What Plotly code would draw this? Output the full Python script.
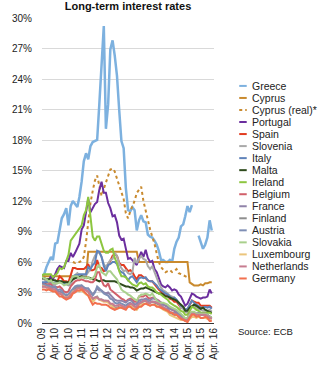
import pandas as pd
import plotly.graph_objects as go

months = pd.date_range("2009-10-01", "2016-03-01", freq="MS")

tick_vals = pd.date_range("2009-10-01", "2016-04-01", freq="6MS")
tick_text = ["Oct. 09", "Apr. 10", "Oct. 10", "Apr. 11", "Oct. 11", "Apr. 12", "Oct. 12",
             "Apr. 13", "Oct. 13", "Apr. 14", "Oct. 14", "Apr. 15", "Oct. 15", "Apr. 16"]

greece = [4.6, 4.8, 5.5,
          6.0, 6.5, 6.2, 7.8, 7.9, 9.1, 10.3, 10.7, 11.3, 9.6, 11.5, 12.0,
          11.7, 11.4, 12.4, 13.9, 15.9, 16.7, 16.1, 17.4, 17.8, 17.9, 18.0, 21.5,
          26.0, 29.2, 19.1, 21.5, 26.9, 27.8, 26.3, 24.3, 20.9, 17.9, 17.2, 13.3,
          11.1, 11.0, 11.4, 11.1, 9.1, 10.1, 10.6, 10.0, 9.9, 8.7, 8.5, 8.4,
          8.1, 7.7, 7.1, 6.2, 6.2, 6.0, 6.0, 6.2, 6.0, 7.3, 8.0, 8.4,
          9.5, 9.7, 10.5, 11.5, 10.9, 11.6, None, None, 8.6, 7.9, 7.3, 7.7,
          8.4, 10.1, 9.1]
cyprus = [4.6, 4.6, 4.6,
          4.6, 4.6, 4.6, 4.6, 4.6, 4.6, 4.6, 4.6, 4.6, 4.6, 4.6, 4.6,
          4.6, 4.6, 4.6, 4.6, 4.6, 4.6, 7.0, 7.0, 7.0, 7.0, 7.0, 7.0,
          7.0, 7.0, 7.0, 7.0, 7.0, 7.0, 7.0, 7.0, 7.0, 7.0, 7.0, 7.0,
          7.0, 7.0, 7.0, 7.0, 7.0, 6.0, 6.0, 6.0, 6.0, 6.0, 6.0, 6.0,
          6.0, 6.0, 6.0, 6.0, 6.0, 6.0, 6.0, 6.0, 6.0, 6.0, 6.0, 6.0,
          6.0, 6.0, 6.0, 6.0, 4.0, 3.8, 3.7, 3.7, 3.7, 3.8, 3.7, 3.9,
          3.9, 4.0, 4.0]
cyprus_real = [None, None, None,
               None, None, None, None, None, None, None, None, None, None, None, 6.0,
               5.9, 6.0, 6.0, 6.1, 6.5, 8.0, 10.0, 11.8, 13.0, 14.0, 14.5, 13.5,
               12.5, 13.2, 13.8, 14.6, 15.1, 15.2, 14.9, 14.2, 13.5, 12.8, 12.2, 10.8,
               10.3, 11.0, 11.5, 12.0, 12.8, 13.1, 13.4, 12.0, 11.0, 10.0, 9.2, 8.5,
               7.8, 6.8, 6.0, 5.5, 5.2, 5.0, 5.1, 5.2, 5.0, 5.1, 5.3, 4.9,
               4.8, 4.7, 4.6, 4.5, None, None, None, None, None, None, None, None,
               None, None, None]
portugal = [3.9, 3.9, 4.0,
            4.2, 4.6, 4.3, 4.8, 5.3, 5.6, 5.5, 5.4, 6.1, 6.1, 6.9, 6.5,
            6.9, 7.3, 7.8, 9.2, 9.6, 10.9, 12.2, 10.9, 11.3, 11.7, 11.9, 13.1,
            13.9, 12.8, 12.8, 11.8, 11.3, 10.5, 10.6, 9.9, 8.6, 8.2, 8.3, 7.3,
            6.3, 6.4, 6.2, 6.0, 5.7, 6.4, 7.0, 6.5, 7.2, 6.4, 6.0, 6.1,
            5.3, 5.0, 4.4, 3.8, 3.6, 3.5, 3.7, 3.5, 3.2, 3.3, 3.2, 2.8,
            2.6, 2.1, 1.7, 1.9, 2.4, 2.9, 2.8, 2.6, 2.5, 2.4, 2.5, 2.5,
            2.6, 3.3, 2.9]
spain = [3.8, 3.8, 3.8,
         4.0, 4.0, 3.8, 3.9, 4.1, 4.6, 4.4, 4.1, 4.1, 4.0, 4.7, 5.4,
         5.4, 5.3, 5.3, 5.3, 5.3, 5.5, 5.8, 5.2, 5.2, 5.3, 6.2, 5.5,
         5.4, 5.1, 5.2, 5.8, 6.1, 6.6, 6.8, 6.6, 5.9, 5.7, 5.7, 5.4,
         5.1, 5.2, 5.0, 4.6, 4.3, 4.7, 4.7, 4.5, 4.4, 4.2, 4.1, 4.1,
         3.8, 3.6, 3.3, 3.1, 2.9, 2.7, 2.7, 2.4, 2.3, 2.1, 2.1, 1.8,
         1.5, 1.5, 1.2, 1.3, 1.8, 2.2, 2.1, 2.0, 2.0, 1.7, 1.7, 1.7,
         1.7, 1.7, 1.5]
slovenia = [4.3, 4.3, 4.0,
            3.9, 3.9, 3.8, 3.8, 3.9, 4.0, 4.0, 3.8, 3.8, 3.7, 3.8, 4.2,
            4.7, 4.9, 4.7, 4.6, 4.6, 4.7, 5.0, 5.3, 6.1, 6.6, 6.9, 6.9,
            6.5, 5.8, 5.5, 5.9, 6.2, 6.3, 6.9, 6.6, 5.8, 5.4, 5.1, 5.2,
            4.9, 4.8, 5.0, 6.4, 5.9, 6.3, 6.6, 6.3, 6.2, 5.6, 5.3, 5.6,
            5.0, 4.3, 3.9, 3.5, 3.2, 3.1, 2.9, 2.7, 2.6, 2.5, 2.2, 2.0,
            1.5, 1.4, 1.1, 1.0, 1.2, 1.6, 1.7, 1.5, 1.4, 1.3, 1.2, 1.2,
            1.2, 1.3, 1.1]
italy = [4.0, 4.0, 4.0,
         4.1, 4.1, 3.9, 4.0, 4.0, 4.1, 4.0, 3.8, 3.9, 3.8, 4.1, 4.6,
         4.7, 4.7, 4.8, 4.8, 4.8, 4.8, 5.5, 5.3, 5.7, 5.9, 7.1, 7.0,
         6.5, 5.6, 5.1, 5.7, 5.8, 6.0, 6.0, 5.8, 5.2, 5.0, 4.9, 4.5,
         4.2, 4.5, 4.6, 4.3, 4.0, 4.4, 4.5, 4.4, 4.5, 4.2, 4.1, 4.1,
         3.9, 3.7, 3.4, 3.2, 3.1, 2.9, 2.8, 2.6, 2.4, 2.5, 2.3, 2.0,
         1.7, 1.6, 1.3, 1.4, 1.8, 2.2, 2.0, 1.8, 1.7, 1.5, 1.5, 1.6,
         1.5, 1.6, 1.4]
malta = [4.4, 4.4, 4.3,
         4.3, 4.3, 4.2, 4.2, 4.1, 4.1, 4.1, 4.0, 4.0, 4.0, 4.1, 4.3,
         4.4, 4.5, 4.5, 4.6, 4.5, 4.4, 4.5, 4.4, 4.3, 4.3, 4.2, 4.1,
         4.2, 4.2, 4.1, 4.1, 4.1, 4.1, 4.1, 4.0, 3.9, 3.8, 3.7, 3.6,
         3.6, 3.5, 3.5, 3.4, 3.2, 3.3, 3.4, 3.4, 3.5, 3.4, 3.3, 3.2,
         3.1, 3.0, 2.9, 2.9, 2.8, 2.6, 2.6, 2.5, 2.4, 2.3, 2.2, 2.0,
         1.8, 1.6, 1.2, 1.2, 1.5, 1.7, 1.8, 1.7, 1.5, 1.4, 1.5, 1.3,
         1.2, 1.1, 1.0]
ireland = [4.7, 4.8, 4.8,
           4.8, 4.8, 4.5, 4.7, 4.9, 5.4, 5.3, 5.5, 6.2, 6.7, 8.1, 8.4,
           8.7, 9.1, 9.3, 9.6, 10.6, 11.1, 12.4, 10.5, 8.5, 8.1, 8.5, 8.5,
           7.7, 7.1, 6.9, 6.9, 7.2, 7.3, 6.4, 5.9, 5.1, 4.6, 4.6, 4.5,
           4.2, 4.0, 3.8, 3.7, 3.6, 3.9, 4.0, 3.8, 3.9, 3.6, 3.5, 3.5,
           3.3, 3.0, 2.9, 2.8, 2.6, 2.4, 2.3, 2.0, 1.8, 1.7, 1.6, 1.4,
           1.2, 1.1, 0.8, 0.8, 1.2, 1.6, 1.5, 1.3, 1.2, 1.0, 1.0, 1.0,
           1.0, 1.0, 0.9]
belgium = [3.7, 3.7, 3.7,
           3.8, 3.8, 3.6, 3.6, 3.5, 3.6, 3.4, 3.1, 3.0, 3.1, 3.6, 3.9,
           4.1, 4.2, 4.2, 4.3, 4.2, 4.1, 4.1, 4.0, 4.0, 4.2, 5.0, 5.0,
           4.2, 3.7, 3.6, 3.9, 3.3, 3.1, 3.0, 2.8, 2.6, 2.4, 2.3, 2.1,
           2.3, 2.4, 2.3, 2.1, 2.1, 2.6, 2.6, 2.6, 2.8, 2.5, 2.4, 2.5,
           2.4, 2.3, 2.2, 2.0, 1.9, 1.7, 1.6, 1.4, 1.3, 1.2, 1.0, 0.9,
           0.8, 0.6, 0.4, 0.5, 0.9, 1.1, 1.0, 0.9, 0.9, 0.8, 0.9, 0.9,
           0.8, 0.6, 0.5]
france = [3.6, 3.6, 3.5,
          3.6, 3.5, 3.5, 3.5, 3.1, 3.1, 3.0, 2.8, 2.7, 2.7, 3.0, 3.3,
          3.5, 3.6, 3.6, 3.7, 3.5, 3.4, 3.4, 3.1, 2.8, 3.1, 3.4, 3.2,
          3.2, 3.0, 2.9, 3.0, 2.8, 2.6, 2.3, 2.2, 2.2, 2.2, 2.1, 2.0,
          2.2, 2.3, 2.1, 1.8, 1.9, 2.2, 2.3, 2.3, 2.4, 2.3, 2.2, 2.4,
          2.4, 2.3, 2.1, 2.0, 1.8, 1.7, 1.6, 1.4, 1.3, 1.3, 1.1, 0.9,
          0.7, 0.6, 0.4, 0.4, 0.8, 1.0, 1.1, 0.9, 1.0, 0.9, 0.9, 0.9,
          0.8, 0.6, 0.6]
finland = [3.6, 3.6, 3.5,
           3.5, 3.4, 3.3, 3.3, 2.9, 2.9, 2.8, 2.5, 2.5, 2.6, 2.8, 3.1,
           3.4, 3.5, 3.5, 3.6, 3.4, 3.2, 3.1, 2.6, 2.3, 2.5, 2.6, 2.3,
           2.3, 2.2, 2.2, 2.1, 1.8, 1.7, 1.5, 1.5, 1.6, 1.6, 1.6, 1.5,
           1.7, 1.9, 1.8, 1.6, 1.6, 1.9, 2.0, 2.1, 2.2, 2.0, 2.0, 2.1,
           2.0, 1.9, 1.8, 1.7, 1.5, 1.4, 1.3, 1.0, 0.9, 0.8, 0.8, 0.7,
           0.5, 0.4, 0.2, 0.2, 0.6, 0.9, 1.0, 0.8, 0.9, 0.8, 0.8, 0.8,
           0.7, 0.5, 0.5]
austria = [3.8, 3.8, 3.7,
           3.7, 3.6, 3.6, 3.6, 3.2, 3.3, 3.2, 2.8, 2.8, 2.8, 3.1, 3.4,
           3.6, 3.7, 3.7, 3.7, 3.5, 3.4, 3.4, 3.0, 2.7, 3.0, 3.6, 3.4,
           3.1, 2.9, 2.8, 2.7, 2.4, 2.3, 2.0, 1.9, 2.0, 1.9, 1.8, 1.7,
           1.9, 2.0, 1.8, 1.6, 1.6, 2.0, 2.1, 2.2, 2.3, 2.1, 2.0, 2.1,
           2.1, 2.0, 1.9, 1.8, 1.5, 1.4, 1.4, 1.1, 1.0, 1.0, 0.8, 0.8,
           0.6, 0.4, 0.3, 0.2, 0.6, 1.0, 1.0, 0.9, 0.9, 0.8, 0.8, 0.9,
           0.8, 0.6, 0.5]
slovakia = [4.5, 4.4, 4.3,
            4.1, 4.2, 3.9, 3.9, 3.9, 4.0, 3.9, 3.7, 3.8, 3.8, 4.2, 4.6,
            4.6, 4.6, 4.4, 4.5, 4.5, 4.4, 4.5, 4.3, 4.4, 4.7, 5.5, 5.7,
            5.0, 4.8, 4.7, 5.1, 5.1, 4.8, 4.6, 4.3, 3.8, 3.3, 3.1, 3.0,
            2.8, 2.7, 2.5, 2.3, 2.2, 2.6, 2.8, 2.8, 2.9, 2.8, 2.7, 2.9,
            2.5, 2.2, 2.0, 2.0, 2.0, 1.9, 1.8, 1.6, 1.5, 1.4, 1.3, 1.1,
            0.9, 0.7, 0.4, 0.5, 0.8, 1.1, 1.1, 0.9, 0.9, 0.9, 0.9, 0.9,
            0.8, 0.6, 0.6]
luxembourg = [3.7, 3.6, 3.5,
              3.3, 3.2, 3.1, 3.2, 2.9, 2.9, 2.8, 2.6, 2.5, 2.6, 2.8, 3.1,
              3.2, 3.2, 3.1, 3.2, 3.0, 2.8, 2.7, 2.4, 2.1, 2.3, 2.5, 2.3,
              2.2, 2.1, 2.1, 2.0, 1.8, 1.6, 1.4, 1.4, 1.5, 1.6, 1.6, 1.5,
              1.6, 1.7, 1.6, 1.4, 1.3, 1.6, 1.8, 1.9, 1.9, 1.8, 1.7, 1.8,
              1.8, 1.7, 1.6, 1.5, 1.3, 1.2, 1.1, 0.8, 0.7, 0.6, 0.5, 0.4,
              0.3, 0.3, 0.2, 0.1, 0.4, 0.6, 0.6, 0.5, 0.6, 0.5, 0.5, 0.5,
              0.4, 0.3, 0.3]
netherlands = [3.6, 3.6, 3.5,
               3.5, 3.4, 3.3, 3.3, 3.0, 2.9, 2.8, 2.5, 2.5, 2.5, 2.8, 3.0,
               3.2, 3.4, 3.4, 3.5, 3.3, 3.2, 3.1, 2.7, 2.4, 2.5, 2.5, 2.3,
               2.3, 2.2, 2.2, 2.2, 1.9, 1.9, 1.7, 1.7, 1.8, 1.7, 1.6, 1.5,
               1.7, 1.9, 1.8, 1.6, 1.6, 1.9, 2.0, 2.2, 2.2, 2.0, 2.0, 2.1,
               2.1, 2.0, 1.9, 1.7, 1.5, 1.4, 1.3, 1.1, 1.0, 0.9, 0.8, 0.7,
               0.5, 0.4, 0.3, 0.3, 0.6, 0.9, 0.9, 0.8, 0.8, 0.8, 0.8, 0.8,
               0.7, 0.5, 0.4]
germany = [3.3, 3.3, 3.2,
           3.3, 3.2, 3.1, 3.1, 2.8, 2.6, 2.6, 2.4, 2.3, 2.4, 2.5, 2.9,
           3.0, 3.2, 3.2, 3.3, 3.1, 2.9, 2.7, 2.2, 1.8, 2.0, 1.9, 1.9,
           1.8, 1.8, 1.8, 1.7, 1.5, 1.4, 1.3, 1.4, 1.5, 1.5, 1.4, 1.3,
           1.6, 1.6, 1.4, 1.3, 1.4, 1.6, 1.6, 1.8, 1.9, 1.8, 1.7, 1.8,
           1.8, 1.6, 1.6, 1.5, 1.4, 1.3, 1.2, 1.0, 1.0, 0.8, 0.8, 0.6,
           0.4, 0.3, 0.2, 0.1, 0.5, 0.8, 0.8, 0.6, 0.7, 0.5, 0.5, 0.6,
           0.5, 0.2, 0.2]

series_names = ["Greece", "Cyprus", "Cyprus (real)*", "Portugal", "Spain", "Slovenia",
                "Italy", "Malta", "Ireland", "Belgium", "France", "Finland", "Austria",
                "Slovakia", "Luxembourg", "Netherlands", "Germany"]
series_values = [greece, cyprus, cyprus_real, portugal, spain, slovenia, italy, malta,
                 ireland, belgium, france, finland, austria, slovakia, luxembourg,
                 netherlands, germany]
colors = ["#7DB1DF", "#C98A2E", "#C98A2E", "#6B2E9E", "#E23B1F", "#A9A9A9", "#5F83BA",
          "#2E4A1C", "#8DC640", "#D1606A", "#9083A9", "#8E8E8E", "#7F8FB5", "#A9D08C",
          "#EBC57C", "#C77C90", "#F2704F"]
dashes = ["solid", "solid", "dot"] + ["solid"] * 14
widths = [2.5] + [2.0] * 16

y_ticks = [0, 3, 6, 9, 12, 15, 18, 21, 24, 27, 30]

FONT = "Liberation Sans, Arial, sans-serif"

# plot area in pixels
L, R, T, B = 30, 214, 17, 330
W, H = 321, 372


def px_x(p):
    return (p - L) / (R - L)


def px_y(p):
    return (B - p) / (B - T)


fig = go.Figure()
for name, vals, col, dsh, wd in zip(series_names, series_values, colors, dashes, widths):
    fig.add_trace(go.Scatter(x=months, y=vals, mode="lines", name=name,
                             line=dict(color=col, width=wd, dash=dsh),
                             connectgaps=False, showlegend=False))

# manual compact legend
shapes = []
annotations = []
for i, (name, col, dsh) in enumerate(zip(series_names, colors, dashes)):
    yy = px_y(86.7 + 12.35 * i)
    shapes.append(dict(type="line", xref="paper", yref="paper",
                       x0=px_x(241), x1=px_x(249), y0=yy, y1=yy,
                       line=dict(color=col, width=2, dash=dsh)))
    annotations.append(dict(xref="paper", yref="paper", x=px_x(253), y=yy,
                            text=name, showarrow=False, xanchor="left", yanchor="middle",
                            font=dict(family=FONT, size=10.5, color="#222222")))
annotations.append(dict(xref="paper", yref="paper", x=px_x(238), y=px_y(339),
                        text="Source: ECB", showarrow=False, xanchor="left",
                        yanchor="middle", font=dict(family=FONT, size=9.5, color="#222222")))

fig.update_layout(
    width=W, height=H,
    margin=dict(l=L, r=W - R, t=T, b=H - B),
    paper_bgcolor="white", plot_bgcolor="white",
    title=dict(text="<b>Long-term interest rates</b>", x=px_x(122), xref="paper",
               xanchor="center", y=1 - 6.5 / H, yref="container", yanchor="middle",
               font=dict(family=FONT, size=11, color="#111111")),
    shapes=shapes, annotations=annotations,
    showlegend=False,
)
fig.update_xaxes(range=[months[0], tick_vals[-1]], tickvals=tick_vals, ticktext=tick_text,
                 tickangle=-90, showgrid=False, showline=True, linecolor="#333333",
                 linewidth=1, ticks="", tickfont=dict(family=FONT, size=10, color="#222222"),
                 zeroline=False)
fig.update_yaxes(range=[0, 30], tickvals=y_ticks, ticktext=[f"{v}%" for v in y_ticks],
                 showgrid=True, gridcolor="#D9D9D9", gridwidth=1, zeroline=False,
                 showline=False, ticks="", ticklabelstandoff=9,
                 tickfont=dict(family=FONT, size=10, color="#222222"))

fig.write_html("out.html")
